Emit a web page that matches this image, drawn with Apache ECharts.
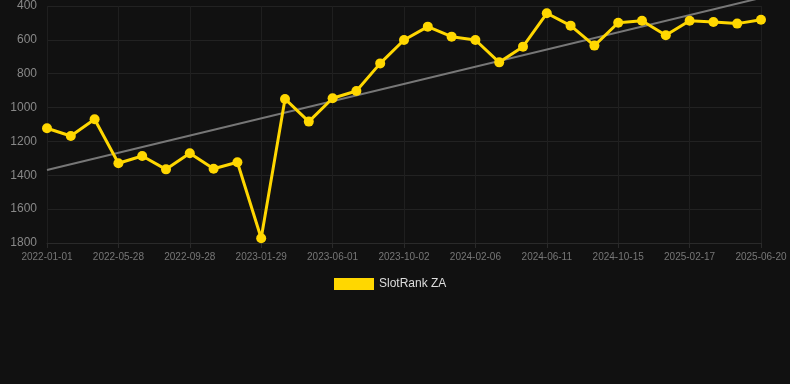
<!DOCTYPE html>
<html>
<head>
<meta charset="utf-8">
<script src="https://cdn.jsdelivr.net/npm/echarts@6/dist/echarts.min.js"></script>
<style>
html,body{margin:0;padding:0;background:#111111;}
#c{width:790px;height:384px;}
</style>
</head>
<body>
<div id="c"></div>
<script>
const categories = [
  '2022-01-01','2022-02-19','2022-04-09','2022-05-28','2022-07-08','2022-08-18',
  '2022-09-28','2022-11-08','2022-12-19','2023-01-29','2023-03-12','2023-04-21',
  '2023-06-01','2023-07-12','2023-08-22','2023-10-02','2023-11-13','2023-12-26',
  '2024-02-06','2024-03-18','2024-04-30','2024-06-11','2024-07-23','2024-09-03',
  '2024-10-15','2024-11-25','2025-01-06','2025-02-17','2025-03-31','2025-05-10',
  '2025-06-20'
];
const rankValues = [
  1122, 1168, 1069, 1329, 1286, 1365, 1270, 1361, 1323, 1772,
  949, 1083, 945, 902, 739, 601, 522, 581, 601, 733,
  640, 443, 516, 634, 499, 487, 573, 487, 494, 504, 481
];
const trendStart = 1369;
const trendEnd = 352;
const trendValues = categories.map((c, i) => i === 0 ? trendStart : (i === categories.length - 1 ? trendEnd : null));
const yTicks = { min: 400, max: 1800, interval: 200 };

const chart = echarts.init(document.getElementById('c'));
chart.setOption({
  backgroundColor: '#111111',
  animation: false,
  grid: { left: 47, right: 29, top: 6, bottom: 141, containLabel: false },
  legend: {
    top: 273,
    left: 329,
    data: [{ name: 'SlotRank ZA', icon: 'rect' }],
    itemWidth: 40, itemHeight: 12, itemGap: 10,
    textStyle: { color: '#dddddd', fontSize: 12, fontFamily: 'Liberation Sans, Arial, sans-serif' }
  },
  xAxis: {
    type: 'category',
    data: categories,
    boundaryGap: false,
    axisLine: { show: true, lineStyle: { color: '#2a2a2a' } },
    axisTick: { show: true, interval: 2, lineStyle: { color: '#2a2a2a' } },
    axisLabel: { interval: 2, color: '#777777', fontSize: 10, margin: 9, fontFamily: 'Liberation Sans, Arial, sans-serif' },
    splitLine: { show: true, interval: 2, lineStyle: { color: '#1f1f1f', width: 1 } }
  },
  yAxis: {
    type: 'value',
    inverse: true,
    min: yTicks.min, max: yTicks.max, interval: yTicks.interval,
    axisLine: { show: false },
    axisTick: { show: false },
    axisLabel: { color: '#888888', fontSize: 12, margin: 10, fontFamily: 'Liberation Sans, Arial, sans-serif',
      formatter: v => String(v) },
    splitLine: { show: true, lineStyle: { color: '#222222', width: 1 } }
  },
  series: [
    {
      name: 'Trend',
      type: 'line',
      data: trendValues,
      connectNulls: true,
      showSymbol: false,
      symbol: 'none',
      lineStyle: { color: '#777777', width: 2 },
      clip: false,
      z: 1,
      silent: true
    },
    {
      name: 'SlotRank ZA',
      type: 'line',
      data: rankValues,
      symbol: 'circle',
      symbolSize: 10,
      itemStyle: { color: '#FFD700' },
      lineStyle: { color: '#FFD700', width: 3 },
      clip: false,
      z: 3
    }
  ]
});
</script>
</body>
</html>
